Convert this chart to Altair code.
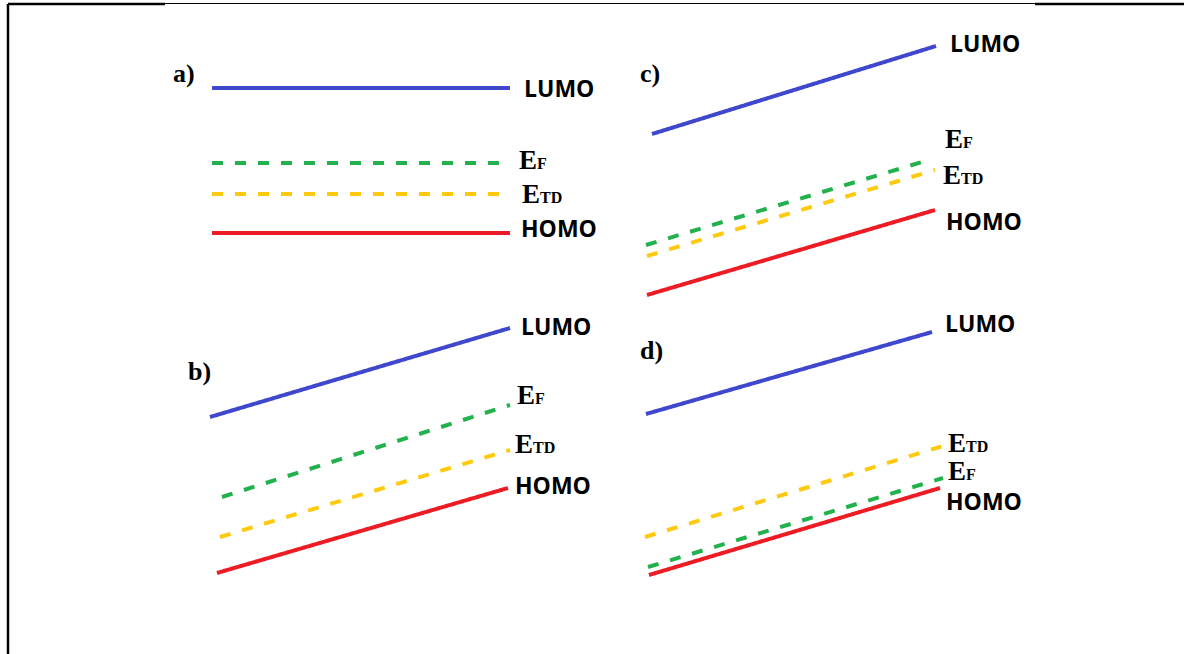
import altair as alt
import pandas as pd

W, H = 1184, 654

# Energy-level segments of the four band diagrams (page grid, y grows downward)
panels = ["a", "a", "a", "a", "b", "b", "b", "b", "c", "c", "c", "c", "d", "d", "d", "d"]
levels = ["LUMO", "E_F", "E_TD", "HOMO"] * 4
x_start = [212, 212, 212, 212, 210, 222, 220, 217, 652, 646, 647, 647, 646, 648, 645, 649]
y_start = [88, 163, 194, 233, 417, 497, 537, 573, 134, 245, 256, 295, 414, 567, 537, 575]
x_end = [510, 510, 510, 510, 510, 510, 510, 508, 936, 932, 935, 935, 932, 943, 943, 940]
y_end = [88, 163, 194, 233, 328, 405, 450, 488, 46, 159, 170, 210, 332, 478, 446, 488]

# Level labels: left edge and baseline
label_x = [524, 519, 522, 521, 521, 517, 515, 515, 950, 945, 943, 946, 945, 948, 948, 946]
label_y = [97, 169, 203, 237, 335, 404, 453, 494, 52, 148, 184, 230, 332, 480, 452, 510]

# Panel tags
tags = ["a)", "b)", "c)", "d)"]
tag_x = [173, 188, 640, 640]
tag_y = [82, 380, 82, 359]

level_names = ["LUMO", "E_F", "E_TD", "HOMO"]
level_colors = ["#3F48CC", "#22B14C", "#FFC90E", "#ED1C24"]
main_text = {"LUMO": "LUMO", "HOMO": "HOMO", "E_F": "E", "E_TD": "E"}
sub_text = {"E_F": "F", "E_TD": "TD"}

seg = pd.DataFrame({
    "panel": panels, "level": levels,
    "x": x_start, "y": y_start, "x2": x_end, "y2": y_end,
})
seg["style"] = seg["level"].map(lambda l: "dashed" if l.startswith("E_") else "solid")

lab = pd.DataFrame({"panel": panels, "level": levels, "x": label_x, "y": label_y})
lab["text"] = lab["level"].map(main_text)
lab["sub"] = lab["level"].map(lambda l: sub_text.get(l, ""))

tag_df = pd.DataFrame({"text": tags, "x": tag_x, "y": tag_y})

# Page frame: left rule and top rule segments
frame = pd.DataFrame({
    "x": [8, 8, 165, 1035],
    "x2": [8, 165, 1035, 1184],
    "y": [4, 4, 3.5, 4],
    "y2": [654, 4, 3.5, 4],
    "w": [2.5, 2.5, 1.2, 2.5],
})

xs = alt.Scale(domain=[0, W], range=[0, W], nice=False, zero=False)
ys = alt.Scale(domain=[0, H], range=[0, H], nice=False, zero=False)
X = lambda f: alt.X(f, type="quantitative", scale=xs, axis=None)
Y = lambda f: alt.Y(f, type="quantitative", scale=ys, axis=None)

lines = alt.Chart(seg).mark_rule(strokeCap="butt").encode(
    x=X("x"), y=Y("y"), x2="x2", y2="y2",
    color=alt.Color("level:N", scale=alt.Scale(domain=level_names, range=level_colors), legend=None),
    strokeDash=alt.StrokeDash("style:N", scale=alt.Scale(domain=["solid", "dashed"], range=[[1, 0], [11, 12]]), legend=None),
    strokeWidth=alt.value(4),
)

word_labels = alt.Chart(lab[lab["sub"] == ""]).mark_text(
    align="left", baseline="alphabetic", font="Open Sans", fontWeight="bold", fontSize=23, color="black"
).encode(x=X("x"), y=Y("y"), text="text:N")

e_labels = alt.Chart(lab[lab["sub"] != ""]).mark_text(
    align="left", baseline="alphabetic", font="Liberation Serif", fontWeight="bold", fontSize=27, color="black"
).encode(x=X("x"), y=Y("y"), text="text:N")

e_subs = alt.Chart(lab[lab["sub"] != ""]).mark_text(
    align="left", baseline="alphabetic", font="Liberation Serif", fontWeight="bold", fontSize=16, color="black", dx=18
).encode(x=X("x"), y=Y("y"), text="sub:N")

tag_labels = alt.Chart(tag_df).mark_text(
    align="left", baseline="alphabetic", font="Liberation Serif", fontWeight="bold", fontSize=26, color="black"
).encode(x=X("x"), y=Y("y"), text="text:N")

frame_rules = alt.Chart(frame).mark_rule(color="black", strokeCap="butt").encode(
    x=X("x"), y=Y("y"), x2="x2", y2="y2",
    strokeWidth=alt.StrokeWidth("w:Q", scale=None),
)

chart = alt.layer(frame_rules, lines, word_labels, e_labels, e_subs, tag_labels).properties(
    width=W, height=H, padding=0, autosize=alt.AutoSizeParams(type="none"), background="white"
).configure_view(stroke=None)

chart.save("out.html", embed_options={"renderer": "svg", "actions": False})
